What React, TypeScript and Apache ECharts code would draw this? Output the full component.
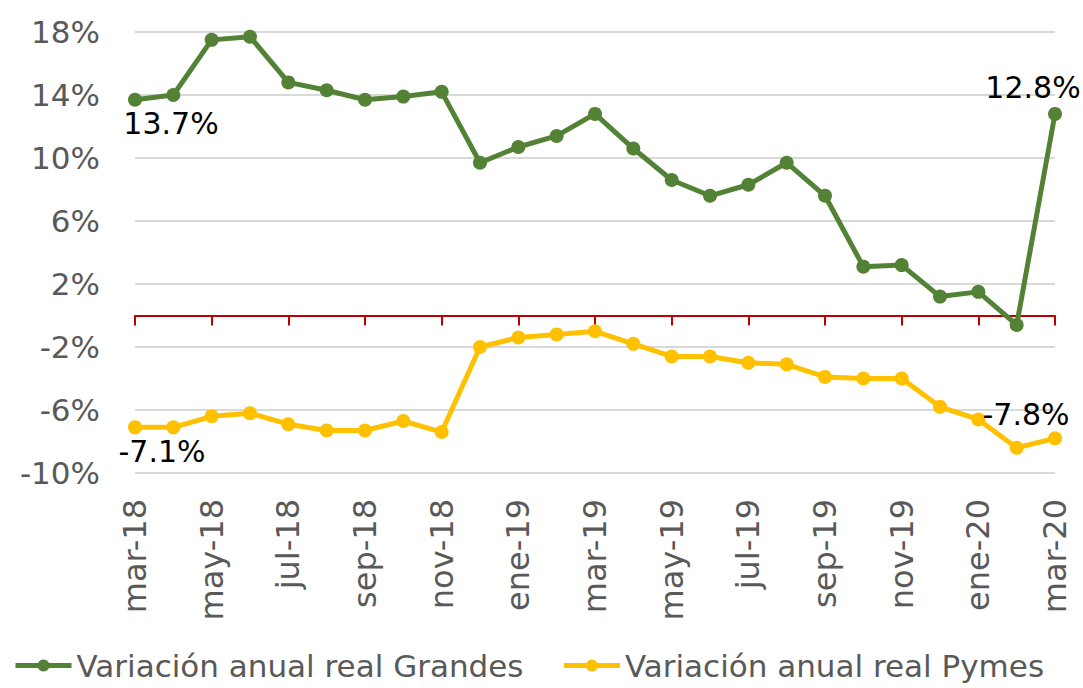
import React, { useEffect, useRef } from "react";
import * as echarts from "echarts";

const categories = [
  "mar-18", "abr-18", "may-18", "jun-18", "jul-18", "ago-18", "sep-18", "oct-18", "nov-18", "dic-18",
  "ene-19", "feb-19", "mar-19", "abr-19", "may-19", "jun-19", "jul-19", "ago-19", "sep-19", "oct-19",
  "nov-19", "dic-19", "ene-20", "feb-20", "mar-20",
];
const grandes = [13.7, 14.0, 17.5, 17.7, 14.8, 14.3, 13.7, 13.9, 14.2, 9.7, 10.7, 11.4, 12.8, 10.6, 8.6, 7.6, 8.3, 9.7, 7.6, 3.1, 3.2, 1.2, 1.5, -0.6, 12.8];
const pymes = [-7.1, -7.1, -6.4, -6.2, -6.9, -7.3, -7.3, -6.7, -7.4, -2.0, -1.4, -1.2, -1.0, -1.8, -2.6, -2.6, -3.0, -3.1, -3.9, -4.0, -4.0, -5.8, -6.6, -8.4, -7.8];
const seriesNames = ["Variación anual real Grandes", "Variación anual real Pymes"];
const yTicks = { min: -10, max: 18, interval: 4 };

const GREEN = "#538135";
const YELLOW = "#FFC000";
const AXIS_FONT = "DejaVu Sans";

function withEndLabels(values: number[], first: any, last: any) {
  return values.map((v, i) => {
    if (i === 0) return { value: v, label: { show: true, ...first } };
    if (i === values.length - 1) return { value: v, label: { show: true, ...last } };
    return v;
  });
}

export default function App() {
  const ref = useRef<HTMLDivElement>(null);
  useEffect(() => {
    if (!ref.current) return;
    const chart = echarts.init(ref.current, undefined, { renderer: "svg" });
    const labelStyle = {
      formatter: (p: any) => p.value.toFixed(1) + "%",
      color: "#000",
      fontSize: 30,
      fontFamily: AXIS_FONT,
    };
    chart.setOption({
      animation: false,
      grid: { left: 135, right: 28, top: 32, bottom: 215, containLabel: false },
      legend: {
        bottom: 2,
        left: 8,
        itemWidth: 56,
        itemHeight: 15,
        itemGap: 38,
        lineStyle: { width: 5 },
        textStyle: { fontSize: 31, color: "#595959", fontFamily: AXIS_FONT },
        data: seriesNames,
      },
      xAxis: [
        {
          type: "category",
          data: categories,
          boundaryGap: false,
          position: "bottom",
          axisLine: { show: false, onZero: false },
          axisTick: { show: false },
          axisLabel: {
            rotate: 90,
            interval: 1,
            margin: 26,
            fontSize: 32,
            color: "#595959",
            fontFamily: AXIS_FONT,
          },
          splitLine: { show: false },
        },
        {
          type: "category",
          data: categories,
          boundaryGap: false,
          position: "bottom",
          axisLine: { show: true, onZero: true, lineStyle: { color: "#C00000", width: 2 } },
          axisTick: { show: true, interval: 1, length: 10, lineStyle: { color: "#C00000", width: 2 } },
          axisLabel: { show: false },
          splitLine: { show: false },
        },
      ],
      yAxis: {
        type: "value",
        min: yTicks.min,
        max: yTicks.max,
        interval: yTicks.interval,
        axisLine: { show: false },
        axisTick: { show: false },
        axisLabel: {
          formatter: (v: number) => v + "%",
          fontSize: 31,
          color: "#595959",
          fontFamily: AXIS_FONT,
          margin: 35,
        },
        splitLine: { lineStyle: { color: "#D9D9D9", width: 2 } },
      },
      series: [
        {
          name: seriesNames[0],
          type: "line",
          xAxisIndex: 0,
          data: withEndLabels(
            grandes,
            { ...labelStyle, position: "bottom", offset: [36, -2], distance: 4 },
            { ...labelStyle, position: "top", offset: [-22, 0], distance: 4 }
          ),
          color: GREEN,
          lineStyle: { width: 5, color: GREEN },
          symbol: "circle",
          symbolSize: 14,
          itemStyle: { color: GREEN },
        },
        {
          name: seriesNames[1],
          type: "line",
          xAxisIndex: 0,
          data: withEndLabels(
            pymes,
            { ...labelStyle, position: "bottom", offset: [27, 0], distance: 2 },
            { ...labelStyle, position: "top", offset: [-29, 0], distance: 2 }
          ),
          color: YELLOW,
          lineStyle: { width: 5, color: YELLOW },
          symbol: "circle",
          symbolSize: 14,
          itemStyle: { color: YELLOW },
        },
      ],
    });
    return () => chart.dispose();
  }, []);
  return <div ref={ref} style={{ width: 1083, height: 688, position: "absolute", left: 0, top: 0 }} />;
}
